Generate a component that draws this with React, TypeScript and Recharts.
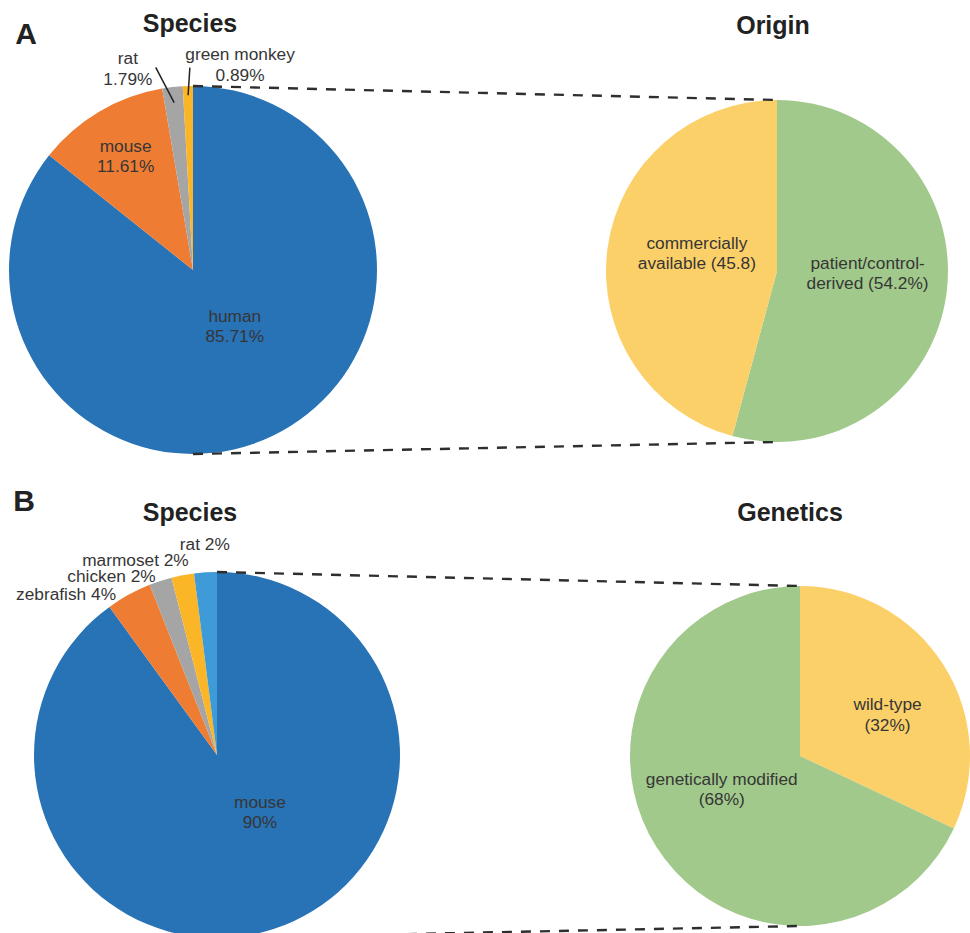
import React from "react";
import { Cell, Pie, PieChart } from "recharts";

// A: species used / origin of the human cells
const A_SPECIES = ["human", "mouse", "rat", "green monkey"];
const A_SPECIES_PCT = [85.71, 11.61, 1.79, 0.89];
const A_ORIGIN = ["patient/control-derived", "commercially available"];
const A_ORIGIN_PCT = [54.2, 45.8];
const A_ORIGIN_TEXT = [
  ["patient/control-", "derived (54.2%)"],
  ["commercially", "available (45.8)"],
];

// B: species used / genetics of the mice
const B_SPECIES = ["mouse", "zebrafish", "chicken", "marmoset", "rat"];
const B_SPECIES_PCT = [90, 4, 2, 2, 2];
const B_GENETICS = ["wild-type", "genetically modified"];
const B_GENETICS_PCT = [32, 68];

const W = 970;
const H = 933;
const FONT = "'Liberation Sans', Arial, sans-serif";
const TEXT = "#363636";

const BLUE = "#2872b6";
const ORANGE = "#ee7d33";
const GRAY = "#a5a5a5";
const GOLD = "#fbb627";
const SKY = "#3e9bd7";
const YELLOW = "#fcd068";
const GREEN = "#a1c98b";

const GEO = {
  aSpecies: { cx: 193, cy: 270, r: 184 },
  aOrigin: { cx: 777, cy: 271, r: 171 },
  bSpecies: { cx: 217, cy: 755, r: 183 },
  bGenetics: { cx: 800, cy: 756, r: 170 },
};

type Place = { rf: number; da: number; leader?: [number, number, number] };

// label placement: radius fraction + angle nudge (deg, clockwise)
const A_SPECIES_PLACE: Place[] = [
  { rf: 0.38, da: -11 },
  { rf: 0.72, da: 0 },
  { rf: 1.15, da: -11.5, leader: [0.915, 1.12, -4] },
  { rf: 1.145, da: 14.5, leader: [0.95, 1.1, 0.7] },
];
const A_ORIGIN_PLACE: Place[] = [
  { rf: 0.53, da: -6.3 },
  { rf: 0.48, da: 5 },
];
const B_SPECIES_PLACE: Place[] = [
  { rf: 0.39, da: -19 },
  { rf: 1.205, da: -14.4 },
  { rf: 1.136, da: -12.5 },
  { rf: 1.155, da: -11.9 },
  { rf: 1.155, da: 0.3 },
];
const B_GENETICS_PLACE: Place[] = [
  { rf: 0.57, da: 7 },
  { rf: 0.5, da: 9.4 },
];

const toData = (names: string[], vals: number[]) =>
  names.map((name, i) => ({ name, value: vals[i] }));

function polar(cx: number, cy: number, r: number, deg: number) {
  const t = (deg * Math.PI) / 180;
  return { x: cx + r * Math.sin(t), y: cy - r * Math.cos(t) };
}

function makeLabel(lines: string[][], place: Place[]) {
  return (p: any) => {
    const i = p.index;
    const pl = place[i];
    const theta = 90 - p.midAngle;
    const pos = polar(p.cx, p.cy, p.outerRadius * pl.rf, theta + pl.da);
    const ls = lines[i];
    const lh = 20.5;
    return (
      <g key={`lbl-${i}`}>
        {pl.leader && (() => {
          const a = polar(p.cx, p.cy, p.outerRadius * pl.leader[0], theta);
          const b = polar(p.cx, p.cy, p.outerRadius * pl.leader[1], theta + pl.leader[2]);
          return <line x1={a.x} y1={a.y} x2={b.x} y2={b.y} stroke="#222" strokeWidth={1.5} />;
        })()}
        <text
          x={pos.x}
          y={pos.y}
          textAnchor="middle"
          fill={TEXT}
          fontFamily={FONT}
          fontSize={17.3}
        >
          {ls.map((s, k) => (
            <tspan
              key={k}
              x={pos.x}
              y={pos.y + (k - (ls.length - 1) / 2) * lh}
              dominantBaseline="central"
            >
              {s}
            </tspan>
          ))}
        </text>
      </g>
    );
  };
}

const aSpeciesText = A_SPECIES.map((n, i) => [n, `${A_SPECIES_PCT[i]}%`]);
const bSpeciesText = B_SPECIES.map((n, i) =>
  i === 0 ? [n, `${B_SPECIES_PCT[i]}%`] : [`${n} ${B_SPECIES_PCT[i]}%`],
);
const bGeneticsText = B_GENETICS.map((n, i) => [n, `(${B_GENETICS_PCT[i]}%)`]);

const A_SPECIES_COLORS = [BLUE, ORANGE, GRAY, GOLD];
const A_ORIGIN_COLORS = [GREEN, YELLOW];
const B_SPECIES_COLORS = [BLUE, ORANGE, GRAY, GOLD, SKY];
const B_GENETICS_COLORS = [YELLOW, GREEN];

function PieBlock({
  id,
  geo,
  names,
  vals,
  colors,
  text,
  place,
}: {
  id: string;
  geo: { cx: number; cy: number; r: number };
  names: string[];
  vals: number[];
  colors: string[];
  text: string[][];
  place: Place[];
}) {
  return (
    <Pie
      key={id}
      data={toData(names, vals)}
      dataKey="value"
      nameKey="name"
      cx={geo.cx}
      cy={geo.cy}
      outerRadius={geo.r}
      startAngle={90}
      endAngle={-270}
      stroke="none"
      labelLine={false}
      label={makeLabel(text, place)}
      isAnimationActive={false}
    >
      {names.map((n, i) => (
        <Cell key={n} fill={colors[i]} />
      ))}
    </Pie>
  );
}

function Dashed({ from, to }: { from: { x: number; y: number }; to: { x: number; y: number } }) {
  return (
    <line
      x1={from.x}
      y1={from.y}
      x2={to.x}
      y2={to.y}
      stroke="#2e2e2e"
      strokeWidth={2.4}
      strokeDasharray="10 9"
    />
  );
}

export default function App() {
  const g = GEO;
  const title = { fontFamily: FONT, fontWeight: 700, fill: "#222", textAnchor: "middle" as const };
  return (
    <div style={{ position: "absolute", left: 0, top: 0, width: W, height: H, background: "#fff" }}>
      <PieChart width={W} height={H} margin={{ top: 0, right: 0, bottom: 0, left: 0 }}>
        {PieBlock({ id: "as", geo: g.aSpecies, names: A_SPECIES, vals: A_SPECIES_PCT, colors: A_SPECIES_COLORS, text: aSpeciesText, place: A_SPECIES_PLACE })}
        {PieBlock({ id: "ao", geo: g.aOrigin, names: A_ORIGIN, vals: A_ORIGIN_PCT, colors: A_ORIGIN_COLORS, text: A_ORIGIN_TEXT, place: A_ORIGIN_PLACE })}
        {PieBlock({ id: "bs", geo: g.bSpecies, names: B_SPECIES, vals: B_SPECIES_PCT, colors: B_SPECIES_COLORS, text: bSpeciesText, place: B_SPECIES_PLACE })}
        {PieBlock({ id: "bg", geo: g.bGenetics, names: B_GENETICS, vals: B_GENETICS_PCT, colors: B_GENETICS_COLORS, text: bGeneticsText, place: B_GENETICS_PLACE })}
      </PieChart>
      <svg
        width={W}
        height={H}
        style={{ position: "absolute", left: 0, top: 0, pointerEvents: "none" }}
      >
        <Dashed from={{ x: g.aSpecies.cx, y: g.aSpecies.cy - g.aSpecies.r }} to={{ x: g.aOrigin.cx, y: g.aOrigin.cy - g.aOrigin.r }} />
        <Dashed from={{ x: g.aSpecies.cx, y: g.aSpecies.cy + g.aSpecies.r }} to={{ x: g.aOrigin.cx, y: g.aOrigin.cy + g.aOrigin.r }} />
        <Dashed from={{ x: g.bSpecies.cx, y: g.bSpecies.cy - g.bSpecies.r }} to={{ x: g.bGenetics.cx, y: g.bGenetics.cy - g.bGenetics.r }} />
        <Dashed from={{ x: g.bSpecies.cx, y: g.bSpecies.cy + g.bSpecies.r }} to={{ x: g.bGenetics.cx, y: g.bGenetics.cy + g.bGenetics.r }} />

        <text x={26} y={44} fontSize={30} {...title}>A</text>
        <text x={24} y={511} fontSize={30} {...title}>B</text>
        <text x={190} y={32} fontSize={25} {...title}>Species</text>
        <text x={773} y={34} fontSize={25} {...title}>Origin</text>
        <text x={190} y={521} fontSize={25} {...title}>Species</text>
        <text x={790} y={521} fontSize={25} {...title}>Genetics</text>
      </svg>
    </div>
  );
}
